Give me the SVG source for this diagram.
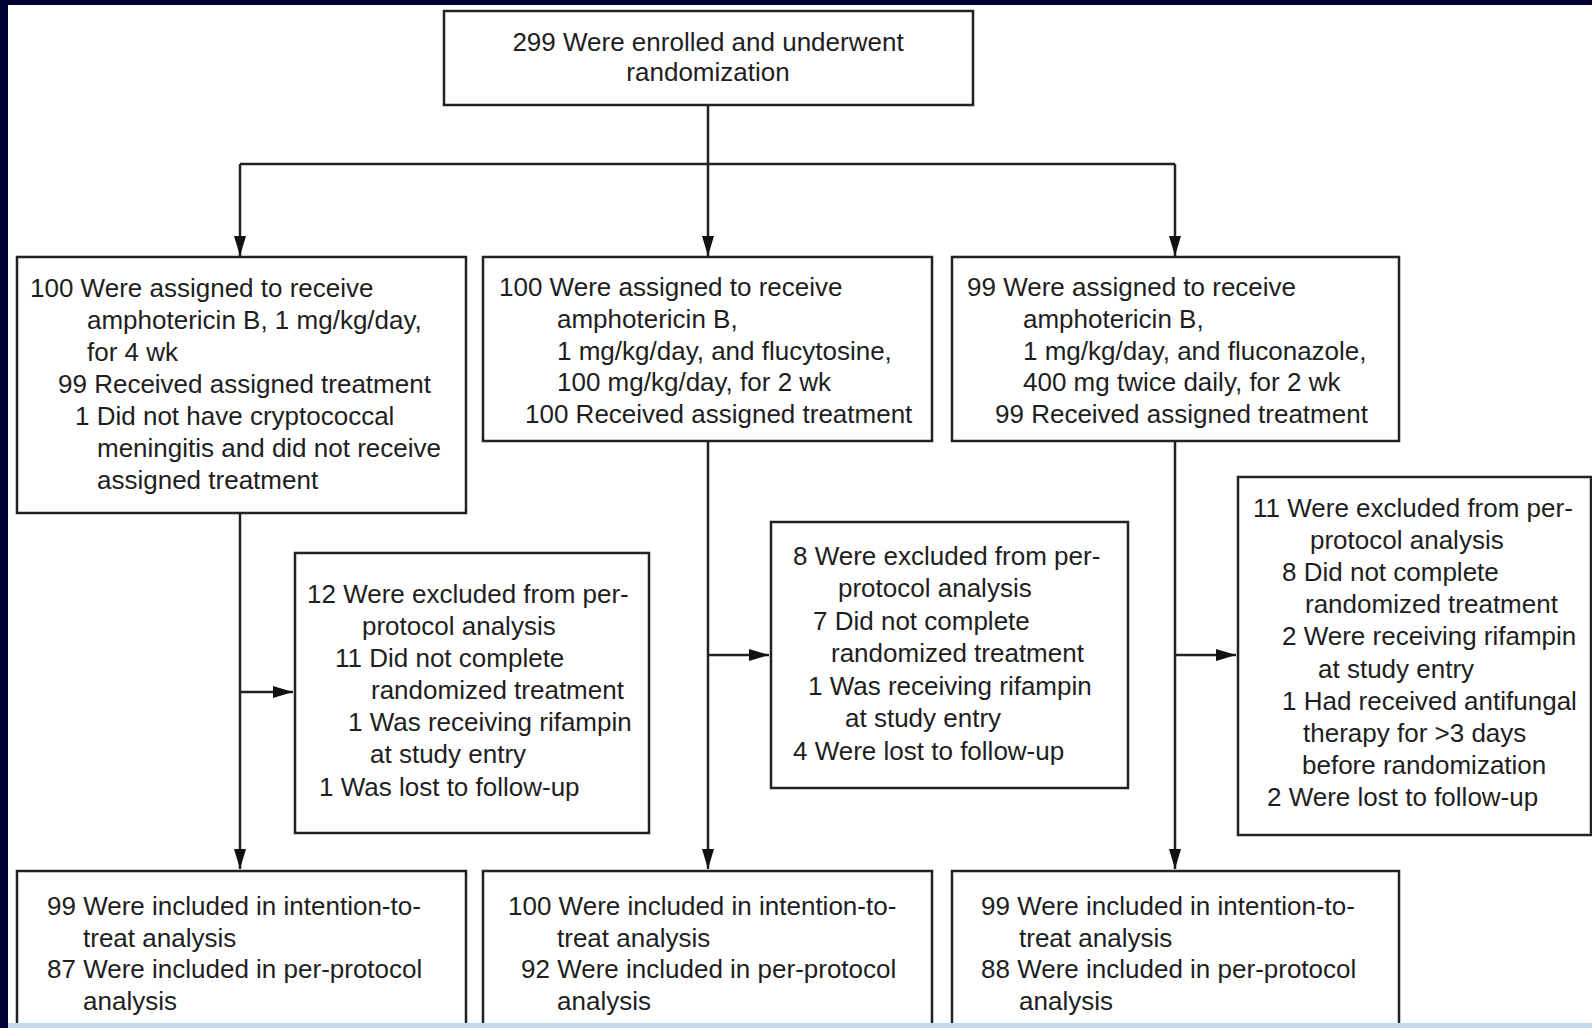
<svg xmlns="http://www.w3.org/2000/svg" width="1592" height="1028" viewBox="0 0 1592 1028">
<defs>
<style>
.box{fill:#fff;stroke:#222;stroke-width:2.5}
.ln{fill:none;stroke:#222;stroke-width:2.5}
.t{font-family:"Liberation Sans",Arial,sans-serif;font-size:26px;fill:#1e1e1e}
.c{text-anchor:middle}
</style>
<marker id="ah" viewBox="0 0 20 12" refX="20" refY="6" markerWidth="20" markerHeight="12" markerUnits="userSpaceOnUse" orient="auto">
<path d="M0,0 L20,6 L0,12 z" fill="#111"/>
</marker>
</defs>
<rect x="0" y="0" width="1592" height="1028" fill="#fff"/>

<g id="connectors">
<path class="ln" d="M708,105 V164"/>
<path class="ln" d="M240,164 H1175"/>
<path class="ln" d="M240,164 V256" marker-end="url(#ah)"/>
<path class="ln" d="M708,164 V256" marker-end="url(#ah)"/>
<path class="ln" d="M1175,164 V256" marker-end="url(#ah)"/>
<path class="ln" d="M240,513 V869" marker-end="url(#ah)"/>
<path class="ln" d="M240,692 H293" marker-end="url(#ah)"/>
<path class="ln" d="M708,441 V869" marker-end="url(#ah)"/>
<path class="ln" d="M708,655 H769" marker-end="url(#ah)"/>
<path class="ln" d="M1175,441 V869" marker-end="url(#ah)"/>
<path class="ln" d="M1175,655 H1236" marker-end="url(#ah)"/>
</g>

<g id="enrolled">
<rect class="box" x="444" y="11" width="529" height="94"/>
<text class="t c" x="708" y="51">299 Were enrolled and underwent</text>
<text class="t c" x="708" y="81">randomization</text>
</g>

<g id="armA">
<rect class="box" x="17" y="257" width="449" height="256"/>
<text class="t" x="30" y="297">100 Were assigned to receive</text>
<text class="t" x="87" y="329">amphotericin B, 1 mg/kg/day,</text>
<text class="t" x="87" y="361">for 4 wk</text>
<text class="t" x="58" y="393">99 Received assigned treatment</text>
<text class="t" x="75" y="425">1 Did not have cryptococcal</text>
<text class="t" x="97" y="457">meningitis and did not receive</text>
<text class="t" x="97" y="489">assigned treatment</text>
</g>

<g id="armB">
<rect class="box" x="483" y="257" width="449" height="184"/>
<text class="t" x="499" y="296">100 Were assigned to receive</text>
<text class="t" x="557" y="328">amphotericin B,</text>
<text class="t" x="557" y="360">1 mg/kg/day, and flucytosine,</text>
<text class="t" x="557" y="391">100 mg/kg/day, for 2 wk</text>
<text class="t" x="525" y="423">100 Received assigned treatment</text>
</g>

<g id="armC">
<rect class="box" x="952" y="257" width="447" height="184"/>
<text class="t" x="967" y="296">99 Were assigned to receive</text>
<text class="t" x="1023" y="328">amphotericin B,</text>
<text class="t" x="1023" y="360">1 mg/kg/day, and fluconazole,</text>
<text class="t" x="1023" y="391">400 mg twice daily, for 2 wk</text>
<text class="t" x="995" y="423">99 Received assigned treatment</text>
</g>

<g id="exclA">
<rect class="box" x="295" y="553" width="354" height="280"/>
<text class="t" x="307" y="603">12 Were excluded from per-</text>
<text class="t" x="362" y="635">protocol analysis</text>
<text class="t" x="335" y="667">11 Did not complete</text>
<text class="t" x="371" y="699">randomized treatment</text>
<text class="t" x="348" y="731">1 Was receiving rifampin</text>
<text class="t" x="370" y="763">at study entry</text>
<text class="t" x="319" y="796">1 Was lost to follow-up</text>
</g>

<g id="exclB">
<rect class="box" x="771" y="522" width="357" height="266"/>
<text class="t" x="793" y="565">8 Were excluded from per-</text>
<text class="t" x="838" y="597">protocol analysis</text>
<text class="t" x="813" y="630">7 Did not complete</text>
<text class="t" x="831" y="662">randomized treatment</text>
<text class="t" x="808" y="695">1 Was receiving rifampin</text>
<text class="t" x="845" y="727">at study entry</text>
<text class="t" x="793" y="760">4 Were lost to follow-up</text>
</g>

<g id="exclC">
<rect class="box" x="1238" y="477" width="353" height="358"/>
<text class="t" x="1253" y="517">11 Were excluded from per-</text>
<text class="t" x="1310" y="549">protocol analysis</text>
<text class="t" x="1282" y="581">8 Did not complete</text>
<text class="t" x="1305" y="613">randomized treatment</text>
<text class="t" x="1282" y="645">2 Were receiving rifampin</text>
<text class="t" x="1318" y="678">at study entry</text>
<text class="t" x="1282" y="710">1 Had received antifungal</text>
<text class="t" x="1303" y="742">therapy for &gt;3 days</text>
<text class="t" x="1302" y="774">before randomization</text>
<text class="t" x="1267" y="806">2 Were lost to follow-up</text>
</g>

<g id="analysisA">
<rect class="box" x="17" y="871" width="449" height="180"/>
<text class="t" x="47" y="915">99 Were included in intention-to-</text>
<text class="t" x="83" y="947">treat analysis</text>
<text class="t" x="47" y="978">87 Were included in per-protocol</text>
<text class="t" x="83" y="1010">analysis</text>
</g>

<g id="analysisB">
<rect class="box" x="483" y="871" width="449" height="180"/>
<text class="t" x="508" y="915">100 Were included in intention-to-</text>
<text class="t" x="557" y="947">treat analysis</text>
<text class="t" x="521" y="978">92 Were included in per-protocol</text>
<text class="t" x="557" y="1010">analysis</text>
</g>

<g id="analysisC">
<rect class="box" x="952" y="871" width="447" height="180"/>
<text class="t" x="981" y="915">99 Were included in intention-to-</text>
<text class="t" x="1019" y="947">treat analysis</text>
<text class="t" x="981" y="978">88 Were included in per-protocol</text>
<text class="t" x="1019" y="1010">analysis</text>
</g>

<rect x="0" y="1023" width="1592" height="5" fill="#c6d9f0"/>
<rect x="0" y="0" width="1592" height="5" fill="#000033"/>
<rect x="0" y="0" width="8" height="1028" fill="#000033"/>
</svg>
